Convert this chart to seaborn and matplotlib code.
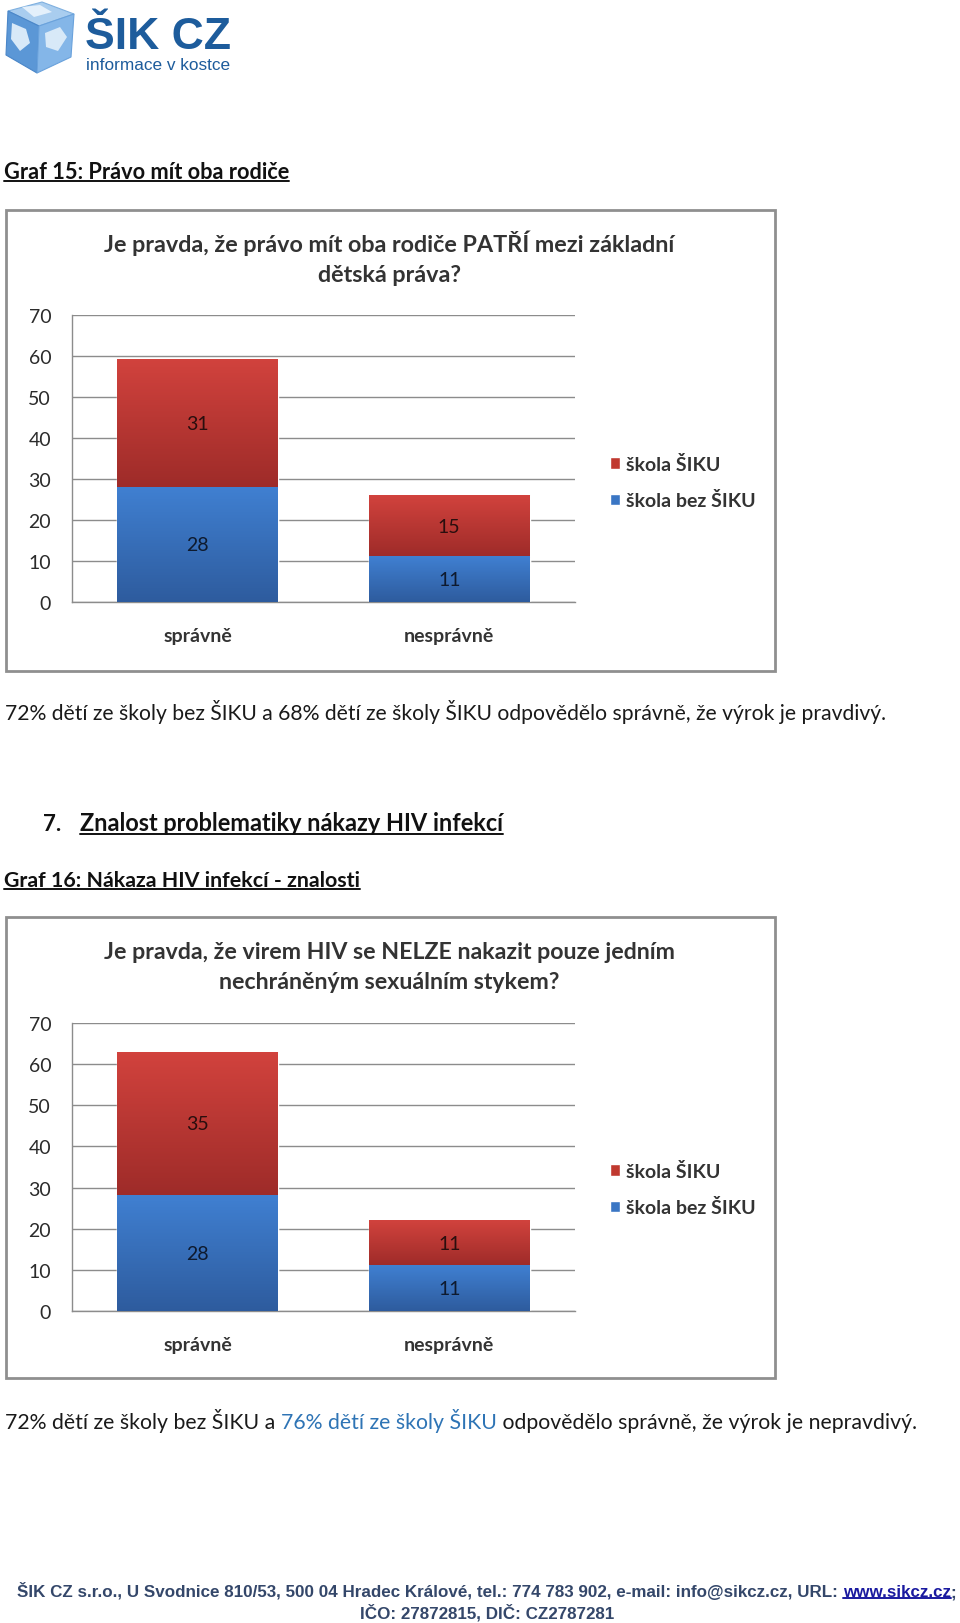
import numpy as np
import pandas as pd
import matplotlib
matplotlib.use("Agg")
import matplotlib.pyplot as plt
import seaborn as sns
from matplotlib.patches import Polygon, Rectangle, Patch
from matplotlib import font_manager as fm

# ---------------- data ----------------
categories = ["správně", "nesprávně"]
series_names = ["škola ŠIKU", "škola bez ŠIKU"]
yticks = [0, 10, 20, 30, 40, 50, 60, 70]

g15_title = ["Je pravda, že právo mít oba rodiče PATŘÍ mezi základní", "dětská práva?"]
g15_siku = [31, 15]
g15_bez = [28, 11]

g16_title = ["Je pravda, že virem HIV se NELZE nakazit pouze jedním", "nechráněným sexuálním stykem?"]
g16_siku = [35, 11]
g16_bez = [28, 11]

heading15 = "Graf 15: Právo mít oba rodiče"
para15 = [("72% dětí ze školy bez ŠIKU a 68% dětí ze školy ŠIKU odpovědělo správně, že výrok je pravdivý.", "#1a1a1a")]
section_num = "7."
section_title = "Znalost problematiky nákazy HIV infekcí"
heading16 = "Graf 16: Nákaza HIV infekcí - znalosti"
para16 = [("72% dětí ze školy bez ŠIKU a ", "#1a1a1a"),
          ("76% dětí ze školy ŠIKU", "#2e74b5"),
          (" odpovědělo správně, že výrok je nepravdivý.", "#1a1a1a")]
footer1_main = "ŠIK CZ s.r.o., U Svodnice 810/53, 500 04 Hradec Králové, tel.: 774 783 902, e-mail: info@sikcz.cz, URL: "
footer1_link = "www.sikcz.cz"
footer2 = "IČO: 27872815, DIČ: CZ2787281"

# ---------------- style ----------------
sns.set_theme(style="white")
BASE = ["Lato", "DejaVu Sans"]
plt.rcParams["font.family"] = BASE


def has_font(name):
    try:
        fm.findfont(fm.FontProperties(family=name), fallback_to_default=False)
        return True
    except Exception:
        return False


NARROW = ["Liberation Sans Narrow", "DejaVu Sans"] if has_font("Liberation Sans Narrow") else ["Liberation Sans", "DejaVu Sans"]

RED_TOP, RED_BOT = np.array([0.82, 0.26, 0.24]), np.array([0.62, 0.17, 0.16])
BLUE_TOP, BLUE_BOT = np.array([0.25, 0.50, 0.82]), np.array([0.18, 0.36, 0.62])
RED, BLUE = "#c0392f", "#3a76c4"
GRID = "#8c8c8c"
TXT = "#333333"
FOOT = "#34476a"

W, H = 960, 1624
fig = plt.figure(figsize=(W / 100, H / 100), dpi=100)
fig.patch.set_facecolor("white")
bg = fig.add_axes([0, 0, 1, 1], zorder=0)
bg.set_xlim(0, W)
bg.set_ylim(H, 0)
bg.axis("off")
renderer = fig.canvas.get_renderer()


def measure(s, size, weight, fam):
    t = bg.text(0, 0, s + "|", fontsize=size, weight=weight, family=fam)
    t2 = bg.text(0, 0, "|", fontsize=size, weight=weight, family=fam)
    w = t.get_window_extent(renderer).width - t2.get_window_extent(renderer).width
    t.remove()
    t2.remove()
    return w


def line(x, y, pieces, fs, width=None, weight="normal", family=None, ha="left", underline=None):
    fam = family or BASE
    full = "".join(s for s, _ in pieces)
    if width:
        fs = fs * width / measure(full, fs, weight, fam)
    tot = measure(full, fs, weight, fam)
    x0 = x - tot / 2 if ha == "center" else x
    px = fs / 0.72
    yb = y + 0.36 * px
    starts, ws = [], []
    prefix = ""
    for s, c in pieces:
        sx = x0 + (measure(prefix, fs, weight, fam) if prefix else 0)
        bg.text(sx, yb, s, fontsize=fs, color=c, weight=weight, family=fam, va="baseline", ha="left")
        starts.append(sx)
        ws.append(measure(s, fs, weight, fam))
        prefix += s
    if underline is not None:
        for i in underline:
            s = pieces[i][0]
            lead = len(s) - len(s.lstrip())
            w_txt = measure(s.strip(), fs, weight, fam)
            off = measure(s[:lead], fs, weight, fam) if lead else 0
            yy = yb + px * 0.14
            bg.plot([starts[i] + off, starts[i] + off + w_txt], [yy, yy], color=pieces[i][1], lw=1.4)
    return fs, starts, ws


# ---------------- logo ----------------
top = [(8, 12), (42, 3), (74, 15), (39, 27)]
left = [(8, 12), (39, 27), (37, 74), (6, 56)]
right = [(39, 27), (74, 15), (71, 58), (37, 74)]
bg.add_patch(Polygon(top, closed=True, fc="#a9cdef", ec="#7fb0e0", lw=0.8))
bg.add_patch(Polygon(left, closed=True, fc="#5b97d6", ec="#4a86c8", lw=0.8))
bg.add_patch(Polygon(right, closed=True, fc="#84b6e8", ec="#6aa2dc", lw=0.8))
bg.add_patch(Polygon([(12, 24), (26, 30), (30, 44), (20, 52), (11, 40)], closed=True, fc="#d8e9f8", ec="none"))
bg.add_patch(Polygon([(45, 34), (60, 28), (67, 38), (58, 52), (46, 48)], closed=True, fc="#d8e9f8", ec="none"))
bg.add_patch(Polygon([(22, 8), (40, 6), (52, 13), (34, 18)], closed=True, fc="#e4f0fb", ec="none"))
line(85, 33, [("ŠIK CZ", "#1d5c9c")], 36, width=146, weight="bold", family=["Liberation Sans", "DejaVu Sans"])
line(86, 64, [("informace v kostce", "#1d5c9c")], 12, width=144, family=["Liberation Sans", "DejaVu Sans"])

# ---------------- headings & paragraphs ----------------
line(4, 171, [(heading15, "#111111")], 15, width=286, weight="bold", underline=[0])
line(5, 712, para15, 14, width=888)
line(43, 823, [(section_num, "#111111")], 16, weight="bold")
line(80, 823, [(section_title, "#111111")], 16, width=425, weight="bold", underline=[0])
line(4, 879, [(heading16, "#111111")], 15, width=357, weight="bold", underline=[0])
line(5, 1421, para16, 14, width=913)

fsz, st, ws = line(17, 1591, [(footer1_main, FOOT), (footer1_link, "#1a1aa0"), (";", FOOT)],
                   12, width=933, weight="bold", family=NARROW, underline=[1])
line(487, 1612, [(footer2, FOOT)], fsz, weight="bold", family=NARROW, ha="center")


# ---------------- charts ----------------
def grad(c_top, c_bot, n=64):
    t = np.linspace(0, 1, n)[:, None, None]
    return (c_top[None, None, :] * (1 - t) + c_bot[None, None, :] * t)


def chart(box_top, box_bot, ax_top, ax_bot, title, siku, bez):
    bg.add_patch(Rectangle((6, box_top), 769, box_bot - box_top, fill=False, ec="#8f8f8f", lw=2))
    fs, _, _ = line(389, box_top + 33, [(title[0], TXT)], 16, width=573, weight="bold", ha="center")
    line(389, box_top + 63, [(title[1], TXT)], fs, weight="bold", ha="center")

    ax = fig.add_axes([72 / W, 1 - ax_bot / H, (575 - 72) / W, (ax_bot - ax_top) / H], zorder=1)
    ax.patch.set_alpha(0)
    df = pd.DataFrame({"kategorie": categories, "siku": siku, "bez": bez})
    df["celkem"] = df["siku"] + df["bez"]
    sns.barplot(data=df, x="kategorie", y="celkem", color=RED, width=0.64, saturation=1, ax=ax, zorder=2)
    sns.barplot(data=df, x="kategorie", y="bez", color=BLUE, width=0.64, saturation=1, ax=ax, zorder=2)

    n = len(categories)
    red_patches = ax.patches[:n]
    blue_patches = ax.patches[n:2 * n]
    for p, b, tot in zip(red_patches, df["bez"], df["celkem"]):
        x0, w = p.get_x(), p.get_width()
        ax.imshow(grad(RED_TOP, RED_BOT), extent=[x0, x0 + w, b, tot], aspect="auto", zorder=3)
    for p, b in zip(blue_patches, df["bez"]):
        x0, w = p.get_x(), p.get_width()
        ax.imshow(grad(BLUE_TOP, BLUE_BOT), extent=[x0, x0 + w, 0, b], aspect="auto", zorder=3)

    for i, (s, b) in enumerate(zip(df["siku"], df["bez"])):
        ax.text(i, b + s / 2, str(s), ha="center", va="center", fontsize=14, color="#2a0e0e", zorder=5)
        ax.text(i, b / 2, str(b), ha="center", va="center", fontsize=14, color="#0e1a2e", zorder=5)

    ax.set_xlim(-0.5, 1.5)
    ax.set_ylim(0, 70)
    ax.set_yticks(yticks)
    ax.set_yticklabels([str(v) for v in yticks])
    ax.yaxis.grid(True, color=GRID, lw=1, zorder=0)
    ax.set_axisbelow(True)
    for s in ["top", "right"]:
        ax.spines[s].set_visible(False)
    for s in ["left", "bottom"]:
        ax.spines[s].set_color(GRID)
        ax.spines[s].set_linewidth(1)
    ax.set_xlabel("")
    ax.set_ylabel("")
    ax.tick_params(axis="y", length=0, pad=15, labelsize=14, labelcolor="#2b2b2b")
    ax.tick_params(axis="x", length=0, pad=18, labelsize=14, labelcolor=TXT)
    for lab in ax.get_xticklabels():
        lab.set_fontweight("bold")

    handles = [Patch(facecolor=RED, label=series_names[0]), Patch(facecolor=BLUE, label=series_names[1])]
    fig.legend(handles=handles, loc="center left",
               bbox_to_anchor=(592 / W, 1 - (box_top + 272) / H),
               frameon=False, handlelength=0.55, handleheight=0.55, handletextpad=0.3,
               labelspacing=0.95, prop={"size": 14, "weight": "bold"}, labelcolor=TXT)
    return ax


chart(211, 672, 316, 603, g15_title, g15_siku, g15_bez)
chart(918, 1379, 1024, 1312, g16_title, g16_siku, g16_bez)

fig.savefig("out.png", dpi=100, facecolor="white")
